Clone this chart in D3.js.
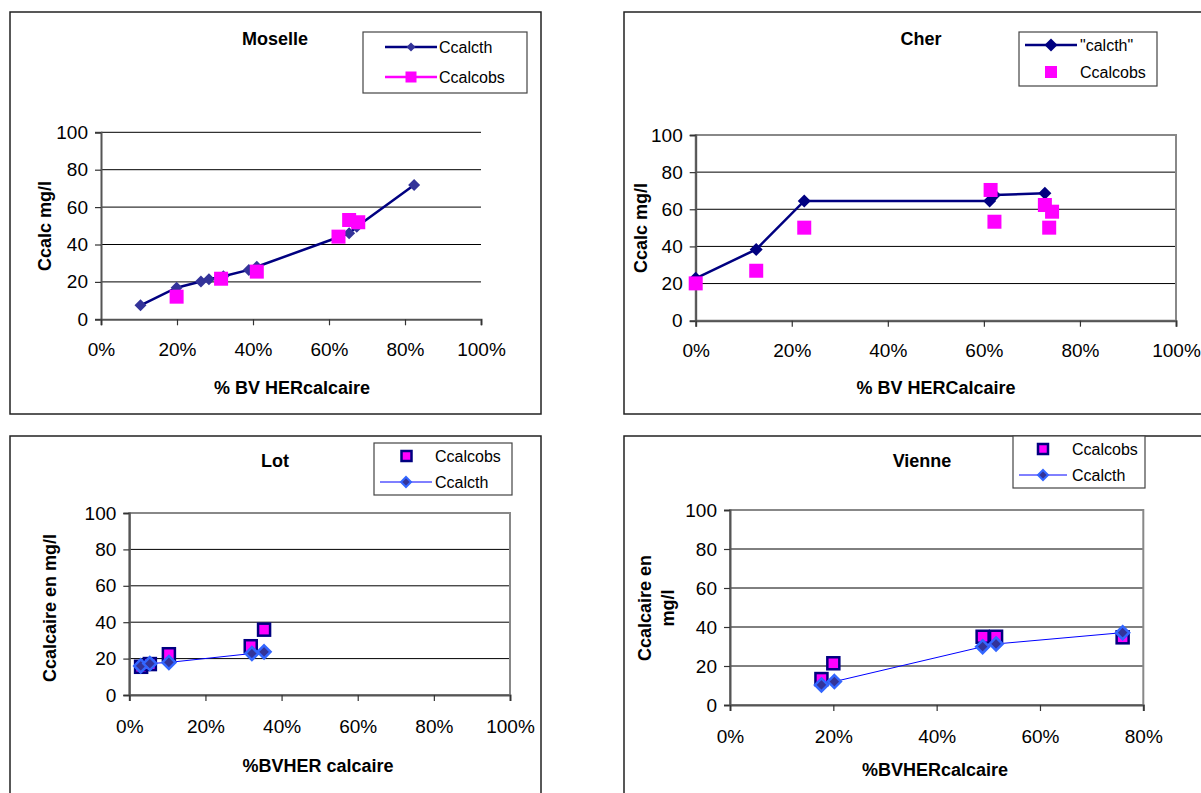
<!DOCTYPE html>
<html><head><meta charset="utf-8">
<script src="https://cdn.jsdelivr.net/npm/d3@7"></script>
<style>body{margin:0;background:#fff}svg{display:block;font-family:"Liberation Sans",Arial,sans-serif}</style>
</head><body><svg id="c" width="1201" height="793"></svg>
<script>
// ---- data: [ % BV HER calcaire, Ccalc mg/l ] ----
const moselleCalcth = [[10.4,7.5],[19.9,16.9],[26.3,20.2],[28.4,21.4],[32.2,23],[38.9,26.4],[41,28.1],[65.3,46],[67.3,49.5],[82.4,71.8]];
const moselleCalcobs = [[19.9,12.1],[31.6,21.7],[41,25.5],[62.5,44.2],[65.3,53.1],[67.7,51.9]];
const cherCalcth = [[0,22.8],[12.6,38.4],[22.6,64.5],[61.2,64.5],[62.2,67.7],[72.7,68.6]];
const cherCalcobs = [[0,20.1],[12.6,26.9],[22.6,50.1],[61.4,70.4],[62.2,53.3],[72.7,62.3],[74.2,58.7],[73.6,50.1]];
const lotCalcobs = [[3.1,15.5],[5.4,17],[10.4,22.4],[31.9,26.8],[35.4,35.9]];
const lotCalcth = [[3,16],[5.4,17.3],[10.4,17.9],[32.2,22.8],[35.4,23.7]];
const vienneCalcobs = [[17.7,13.3],[20,21.4],[48.9,35],[51.5,35],[76,34.7]];
const vienneCalcth = [[17.7,10.3],[20.2,12],[48.9,29.9],[51.5,31.3],[76,37.1]];
const yTicks = [0,20,40,60,80,100];
const xTicks100 = [0,20,40,60,80,100];
const xTicks80 = [0,20,40,60,80];

const svg = d3.select("#c");
const FONT = 18;
const TICKFONT = 19;

// panel frames
[[10,12,531,402],[624,12,600,402],[10,436,531,400],[624,436,600,400]].forEach(f=>{
  svg.append("rect").attr("x",f[0]).attr("y",f[1]).attr("width",f[2]).attr("height",f[3])
    .attr("fill","none").attr("stroke","#222").attr("stroke-width",1.5);
});

function diamond(g, x, y, r, fill, stroke, sw){
  g.append("path").attr("d",`M${x},${y-r}L${x+r},${y}L${x},${y+r}L${x-r},${y}Z`)
    .attr("fill",fill).attr("stroke",stroke||"none").attr("stroke-width",sw||0);
}
function square(g, x, y, s, fill, stroke, sw){
  g.append("rect").attr("x",x-s/2).attr("y",y-s/2).attr("width",s).attr("height",s)
    .attr("fill",fill).attr("stroke",stroke||"none").attr("stroke-width",sw||0);
}

function panel(p){
  const g = svg.append("g");
  const x = d3.scaleLinear().domain([0,p.xmax]).range([p.x0,p.x1]);
  const y = d3.scaleLinear().domain([0,100]).range([p.y0,p.y1]);
  // gridlines
  g.append("g").selectAll("line").data(yTicks.filter(v=>v>0)).join("line")
    .attr("x1",p.x0).attr("x2",p.x1).attr("y1",d=>y(d)).attr("y2",d=>y(d))
    .attr("stroke","#000").attr("stroke-width",1);
  if(p.border){
    g.append("rect").attr("x",p.x0).attr("y",p.y1).attr("width",p.x1-p.x0).attr("height",p.y0-p.y1)
      .attr("fill","none").attr("stroke","#888").attr("stroke-width",2);
  }
  // axes
  const ya = g.append("g").attr("transform",`translate(${p.x0},0)`)
    .call(d3.axisLeft(y).tickValues(yTicks).tickSize(6).tickPadding(7).tickFormat(d3.format("d")));
  const xa = g.append("g").attr("transform",`translate(0,${p.y0})`)
    .call(d3.axisBottom(x).tickValues(p.xmax===80?xTicks80:xTicks100).tickSize(6).tickPadding(p.xpad).tickFormat(d=>d+"%"));
  [ya,xa].forEach(a=>{
    a.select(".domain").attr("stroke","#555").attr("stroke-width",2);
    a.selectAll(".tick line").attr("stroke","#333").attr("stroke-width",1.2);
    a.selectAll("text").attr("font-size",TICKFONT).attr("fill","#000").attr("font-family","Liberation Sans, Arial, sans-serif");
  });
  // series
  p.series.forEach(s=>{
    if(s.line){
      g.append("path").datum(s.data)
        .attr("d",d3.line().x(d=>x(d[0])).y(d=>y(d[1])))
        .attr("fill","none").attr("stroke",s.lineColor).attr("stroke-width",s.lineWidth);
    }
    if(s.marker==="none") return;
    s.data.forEach(d=>{
      if(s.marker==="diamond") diamond(g,x(d[0]),y(d[1]),s.size,s.fill,s.stroke,s.sw);
      else square(g,x(d[0]),y(d[1]),s.size,s.fill,s.stroke,s.sw);
    });
  });
  // title
  g.append("text").attr("x",p.title[1]).attr("y",p.title[2]).attr("text-anchor","middle")
    .attr("font-size",FONT).attr("font-weight","bold").text(p.title[0]);
  // x title
  g.append("text").attr("x",p.xtitle[1]).attr("y",p.xtitle[2]).attr("text-anchor","middle")
    .attr("font-size",FONT).attr("font-weight","bold").text(p.xtitle[0]);
  // y title
  const yt = g.append("text").attr("transform",`translate(${p.ytitle[1]},${p.ytitle[2]}) rotate(-90)`)
    .attr("text-anchor","middle").attr("font-size",FONT).attr("font-weight","bold");
  p.ytitle[0].forEach((t,i)=>yt.append("tspan").attr("x",0).attr("dy",i===0?0:23).text(t));
  // legend
  const L = p.legend;
  g.append("rect").attr("x",L.x).attr("y",L.y).attr("width",L.w).attr("height",L.h)
    .attr("fill","#fff").attr("stroke","#444").attr("stroke-width",1.2);
  L.items.forEach(it=>{
    if(it.line){
      g.append("line").attr("x1",it.lx1).attr("x2",it.lx2).attr("y1",it.y).attr("y2",it.y)
        .attr("stroke",it.lineColor).attr("stroke-width",it.lineWidth);
    }
    const mx = (it.lx1+it.lx2)/2;
    if(it.marker==="diamond") diamond(g,mx,it.y,it.size,it.fill,it.stroke,it.sw);
    else square(g,mx,it.y,it.size,it.fill,it.stroke,it.sw);
    g.append("text").attr("x",it.tx).attr("y",it.y).attr("dy","0.35em")
      .attr("font-size",16).text(it.label);
  });
}

panel({
  xmax:100, x0:101, x1:481, y0:319.3, y1:132.3, border:false, xpad:17,
  title:["Moselle",275,45], xtitle:["% BV HERcalcaire",292,394], ytitle:[["Ccalc mg/l"],51,226],
  series:[
    {data:moselleCalcth, line:true, lineColor:"#000080", lineWidth:2.5, marker:"diamond", size:6, fill:"#333399"},
    {data:moselleCalcobs, line:false, marker:"square", size:14, fill:"#FF00FF"}
  ],
  legend:{x:363,y:32,w:164,h:61,items:[
    {label:"Ccalcth", line:true, lineColor:"#000080", lineWidth:2.5, lx1:385, lx2:437, y:47, tx:439, marker:"diamond", size:4.5, fill:"#333399"},
    {label:"Ccalcobs", line:true, lineColor:"#FF00FF", lineWidth:2.5, lx1:385, lx2:437, y:77, tx:439, marker:"square", size:11, fill:"#FF00FF"}
  ]}
});

panel({
  xmax:100, x0:695.7, x1:1176, y0:320.7, y1:135, border:true, xpad:17,
  title:["Cher",921,45], xtitle:["% BV HERCalcaire",936,394], ytitle:[["Ccalc mg/l"],647,228],
  series:[
    {data:cherCalcth, line:true, lineColor:"#000080", lineWidth:2.5, marker:"diamond", size:6.5, fill:"#000080"},
    {data:cherCalcobs, line:false, marker:"square", size:14, fill:"#FF00FF"}
  ],
  legend:{x:1019,y:32,w:138,h:54,items:[
    {label:"\"calcth\"", line:true, lineColor:"#000080", lineWidth:2.5, lx1:1025, lx2:1077, y:45, tx:1080, marker:"diamond", size:6.5, fill:"#000080"},
    {label:"Ccalcobs", line:false, lx1:1025, lx2:1077, y:72, tx:1080, marker:"square", size:12, fill:"#FF00FF"}
  ]}
});

panel({
  xmax:100, x0:129.3, x1:510, y0:695, y1:513, border:true, xpad:19,
  title:["Lot",275,467], xtitle:["%BVHER calcaire",318,772], ytitle:[["Ccalcaire en mg/l"],56,608],
  series:[
    {data:lotCalcth, line:true, lineColor:"#0000FF", lineWidth:1, marker:"none"},
    {data:lotCalcobs, line:false, marker:"square", size:12, fill:"#FF00FF", stroke:"#000080", sw:2.5},
    {data:lotCalcth, line:false, marker:"diamond", size:6.5, fill:"#333399", stroke:"#3366FF", sw:2.5}
  ],
  legend:{x:374,y:443,w:138,h:52,items:[
    {label:"Ccalcobs", line:false, lx1:380, lx2:433, y:456, tx:435, marker:"square", size:10, fill:"#FF00FF", stroke:"#000080", sw:2.5},
    {label:"Ccalcth", line:true, lineColor:"#0000FF", lineWidth:1, lx1:380, lx2:432, y:482, tx:435, marker:"diamond", size:5, fill:"#333399", stroke:"#3366FF", sw:2}
  ]}
});

panel({
  xmax:80, x0:730, x1:1143.3, y0:705, y1:510, border:true, xpad:19,
  title:["Vienne",922,467], xtitle:["%BVHERcalcaire",935,776], ytitle:[["Ccalcaire en","mg/l"],651,608],
  series:[
    {data:vienneCalcth, line:true, lineColor:"#0000FF", lineWidth:1, marker:"none"},
    {data:vienneCalcobs, line:false, marker:"square", size:12, fill:"#FF00FF", stroke:"#000080", sw:2.5},
    {data:vienneCalcth, line:false, marker:"diamond", size:6.5, fill:"#333399", stroke:"#3366FF", sw:2.5}
  ],
  legend:{x:1013,y:436,w:132,h:52,items:[
    {label:"Ccalcobs", line:false, lx1:1018, lx2:1068, y:449, tx:1072, marker:"square", size:10, fill:"#FF00FF", stroke:"#000080", sw:2.5},
    {label:"Ccalcth", line:true, lineColor:"#0000FF", lineWidth:1, lx1:1019, lx2:1067, y:475, tx:1072, marker:"diamond", size:5, fill:"#333399", stroke:"#3366FF", sw:2}
  ]}
});
</script></body></html>
